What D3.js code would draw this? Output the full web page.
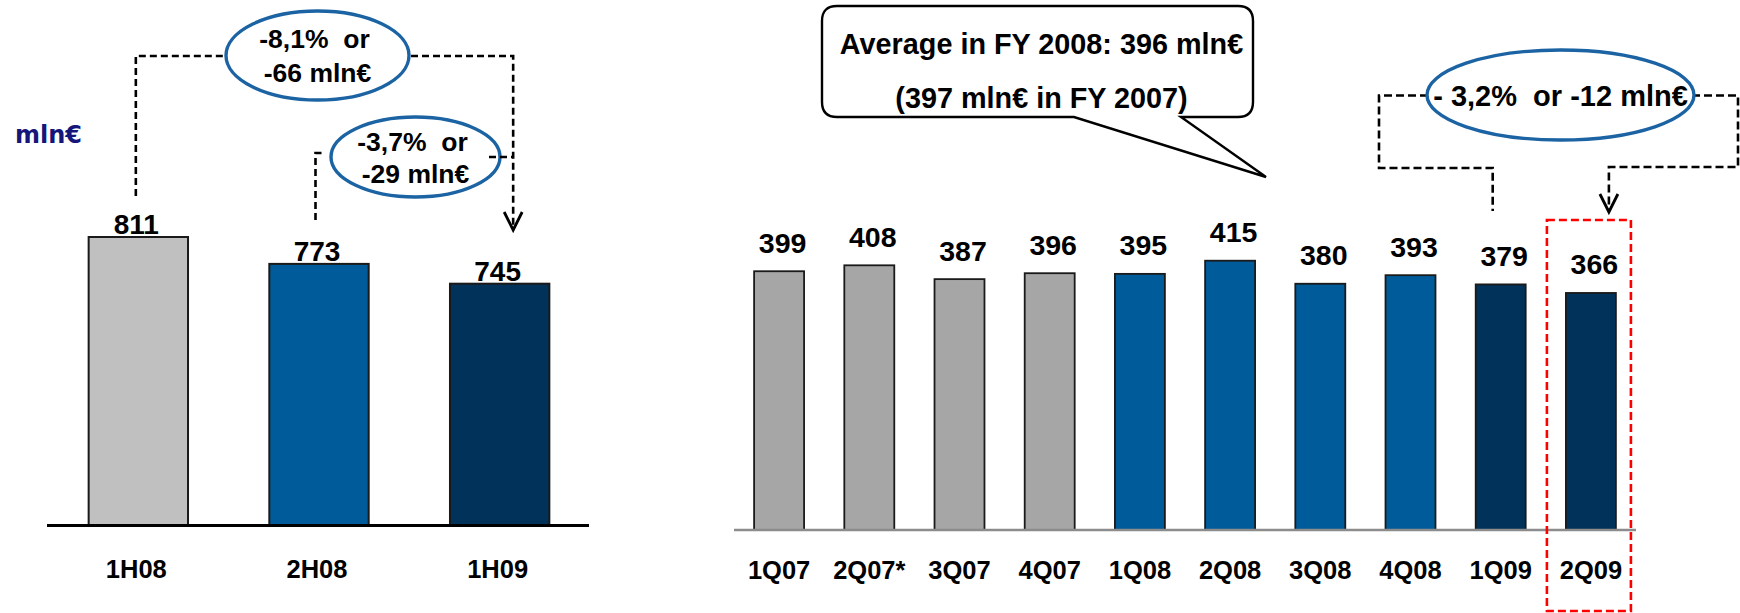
<!DOCTYPE html>
<html>
<head>
<meta charset="utf-8">
<script src="https://cdn.jsdelivr.net/npm/d3@7"></script>
<style>
  html, body { margin: 0; padding: 0; background: #fff; }
  svg { display: block; }
  text { font-family: "Liberation Sans", Arial, sans-serif; font-weight: bold; fill: #000; white-space: pre; }
</style>
</head>
<body>
<svg id="chart"></svg>
<script>
var width = 1740;
var height = 613;

// half-year totals (left panel)
var halfCats = ['1H08', '2H08', '1H09'];
var halfValues = [811, 773, 745];
var halfColors = ['#c0c0c0', '#005b9a', '#00325a'];

// quarterly values (right panel)
var quarterCats = ['1Q07', '2Q07*', '3Q07', '4Q07', '1Q08', '2Q08', '3Q08', '4Q08', '1Q09', '2Q09'];
var quarterValues = [399, 408, 387, 396, 395, 415, 380, 393, 379, 366];
var quarterYears = ['2007', '2007', '2007', '2007', '2008', '2008', '2008', '2008', '2009', '2009'];

var yearColor = d3.scaleOrdinal()
    .domain(['2007', '2008', '2009'])
    .range(['#a6a6a6', '#005b9a', '#00325a']);

var svg = d3.select('#chart')
    .attr('width', width)
    .attr('height', height);

// ---------- left panel ----------
var xL = d3.scaleBand()
    .domain(halfCats)
    .range([48, 590])
    .paddingInner(0.45)
    .paddingOuter(0.225);

var yL = d3.scaleLinear()
    .domain([404, 811])
    .range([525, 237]);

var left = svg.append('g');

left.selectAll('rect.bar')
    .data(halfValues)
    .enter().append('rect')
    .attr('class', 'bar')
    .attr('x', function (d, i) { return xL(halfCats[i]); })
    .attr('y', function (d) { return yL(d); })
    .attr('width', xL.bandwidth())
    .attr('height', function (d) { return yL.range()[0] - yL(d); })
    .attr('fill', function (d, i) { return halfColors[i]; })
    .attr('stroke', '#1a1a1a')
    .attr('stroke-width', 2);

left.append('line')
    .attr('x1', 47).attr('x2', 589)
    .attr('y1', 525.5).attr('y2', 525.5)
    .attr('stroke', '#000')
    .attr('stroke-width', 3);

left.selectAll('text.val')
    .data(halfValues)
    .enter().append('text')
    .attr('class', 'val')
    .attr('x', function (d, i) { return xL(halfCats[i]) + xL.bandwidth() / 2 - 2; })
    .attr('y', function (d) { return yL(d) - 3; })
    .attr('text-anchor', 'middle')
    .style('font-size', '28px')
    .text(function (d) { return d; });

left.selectAll('text.cat')
    .data(halfCats)
    .enter().append('text')
    .attr('class', 'cat')
    .attr('x', function (d) { return xL(d) + xL.bandwidth() / 2 - 2; })
    .attr('y', 578)
    .attr('text-anchor', 'middle')
    .style('font-size', '25.5px')
    .text(function (d) { return d; });

left.append('text')
    .attr('x', 15)
    .attr('y', 143)
    .style('font-family', '"DejaVu Sans", Verdana, sans-serif')
    .style('font-size', '24px')
    .style('fill', '#16167a')
    .text('mln€');

// ---------- right panel ----------
var xR = d3.scaleBand()
    .domain(quarterCats)
    .range([734, 1636])
    .paddingInner(0.446)
    .paddingOuter(0.223);

var yR = d3.scaleLinear()
    .domain([6, 415])
    .range([530, 260.7]);

var right = svg.append('g');

right.selectAll('rect.bar')
    .data(quarterValues)
    .enter().append('rect')
    .attr('class', 'bar')
    .attr('x', function (d, i) { return xR(quarterCats[i]); })
    .attr('y', function (d) { return yR(d); })
    .attr('width', xR.bandwidth())
    .attr('height', function (d) { return yR.range()[0] - yR(d); })
    .attr('fill', function (d, i) { return yearColor(quarterYears[i]); })
    .attr('stroke', '#1a1a1a')
    .attr('stroke-width', 1.8);

right.append('line')
    .attr('x1', 734).attr('x2', 1636)
    .attr('y1', 530).attr('y2', 530)
    .attr('stroke', '#8c8c8c')
    .attr('stroke-width', 2.5);

right.selectAll('text.val')
    .data(quarterValues)
    .enter().append('text')
    .attr('class', 'val')
    .attr('x', function (d, i) { return xR(quarterCats[i]) + xR.bandwidth() / 2 + 3.5; })
    .attr('y', function (d) { return yR(d) - 18.5; })
    .attr('text-anchor', 'middle')
    .style('font-size', '28.5px')
    .text(function (d) { return d; });

right.selectAll('text.cat')
    .data(quarterCats)
    .enter().append('text')
    .attr('class', 'cat')
    .attr('x', function (d) { return xR(d) + xR.bandwidth() / 2; })
    .attr('y', 579)
    .attr('text-anchor', 'middle')
    .style('font-size', '25.5px')
    .text(function (d) { return d; });

// ---------- annotations ----------
var ann = svg.append('g');
var ellipseBlue = '#1b63a3';

function dashed(points, dash) {
    ann.append('path')
        .attr('d', d3.line()(points))
        .attr('fill', 'none')
        .attr('stroke', '#000')
        .attr('stroke-width', 2.6)
        .attr('stroke-dasharray', dash || '7,4');
}

function arrowHead(x, y) {
    ann.append('path')
        .attr('d', d3.line()([[x - 9, y - 18], [x, y], [x + 9, y - 18]]))
        .attr('fill', 'none')
        .attr('stroke', '#000')
        .attr('stroke-width', 2.8);
}

function ellipse(cx, cy, rx, ry, lines, size) {
    ann.append('ellipse')
        .attr('cx', cx).attr('cy', cy)
        .attr('rx', rx).attr('ry', ry)
        .attr('fill', '#fff')
        .attr('stroke', ellipseBlue)
        .attr('stroke-width', 3.4);
    lines.forEach(function (l) {
        ann.append('text')
            .attr('x', cx + l[1])
            .attr('y', l[2])
            .attr('text-anchor', 'middle')
            .style('font-size', size + 'px')
            .text(l[0]);
    });
}

// left: 1H08 -> 1H09
var cL1 = xL('1H08') + xL.bandwidth() / 2 - 2.5;
var cL2 = xL('2H08') + xL.bandwidth() / 2 - 3.5;
var cL3 = xL('1H09') + xL.bandwidth() / 2 + 13.5;
dashed([[cL1, 196], [cL1, 56], [240, 56]]);
dashed([[400, 56], [cL3, 56], [cL3, 228]]);
arrowHead(cL3, 230);
dashed([[cL2, 220], [cL2, 153], [cL2 + 9, 153]]);
ellipse(317.5, 55.5, 91.5, 44.5, [['-8,1%  or', -3, 48], ['-66 mln€', 0, 82]], 26.5);
ellipse(415.5, 157, 84.5, 40, [['-3,7%  or', -3, 151], ['-29 mln€', 0, 183]], 26.5);
dashed([[489, 157], [cL3, 157]]);

// right: 1Q09 -> 2Q09
var cR1 = xR('1Q09') + xR.bandwidth() / 2 - 8;
var cR2 = xR('2Q09') + xR.bandwidth() / 2 + 18;
dashed([[1440, 95.5], [1379, 95.5], [1379, 168], [cR1, 168], [cR1, 211]], '8,4');
dashed([[1680, 95.5], [1738, 95.5], [1738, 167], [cR2, 167], [cR2, 210]], '8,4');
arrowHead(cR2, 212);
ellipse(1560.5, 95, 133.5, 45, [['- 3,2%  or -12 mln€', 0, 106]], 29);

// highlight around 2Q09
var hx = xR('2Q09') + xR.bandwidth() / 2;
ann.append('rect')
    .attr('x', hx - 44).attr('y', 220)
    .attr('width', 84).attr('height', 391)
    .attr('fill', 'none')
    .attr('stroke', '#ff0000')
    .attr('stroke-width', 2.6)
    .attr('stroke-dasharray', '8,4');

// callout with FY averages
var bx0 = 822, bx1 = 1253, by0 = 6, by1 = 117, r = 15;
var tip = [1266, 177];
var callout = d3.path();
callout.moveTo(bx0 + r, by0);
callout.lineTo(bx1 - r, by0);
callout.quadraticCurveTo(bx1, by0, bx1, by0 + r);
callout.lineTo(bx1, by1 - r);
callout.quadraticCurveTo(bx1, by1, bx1 - r, by1);
callout.lineTo(1181, by1);
callout.lineTo(tip[0], tip[1]);
callout.lineTo(1074, by1);
callout.lineTo(bx0 + r, by1);
callout.quadraticCurveTo(bx0, by1, bx0, by1 - r);
callout.lineTo(bx0, by0 + r);
callout.quadraticCurveTo(bx0, by0, bx0 + r, by0);
callout.closePath();

ann.append('path')
    .attr('d', callout.toString())
    .attr('fill', '#fff')
    .attr('stroke', '#000')
    .attr('stroke-width', 2.4);

ann.append('text')
    .attr('x', 1041.5).attr('y', 54)
    .attr('text-anchor', 'middle')
    .style('font-size', '28.8px')
    .text('Average in FY 2008: 396 mln€');
ann.append('text')
    .attr('x', 1041.5).attr('y', 107.5)
    .attr('text-anchor', 'middle')
    .style('font-size', '28.8px')
    .text('(397 mln€ in FY 2007)');
</script>
</body>
</html>
